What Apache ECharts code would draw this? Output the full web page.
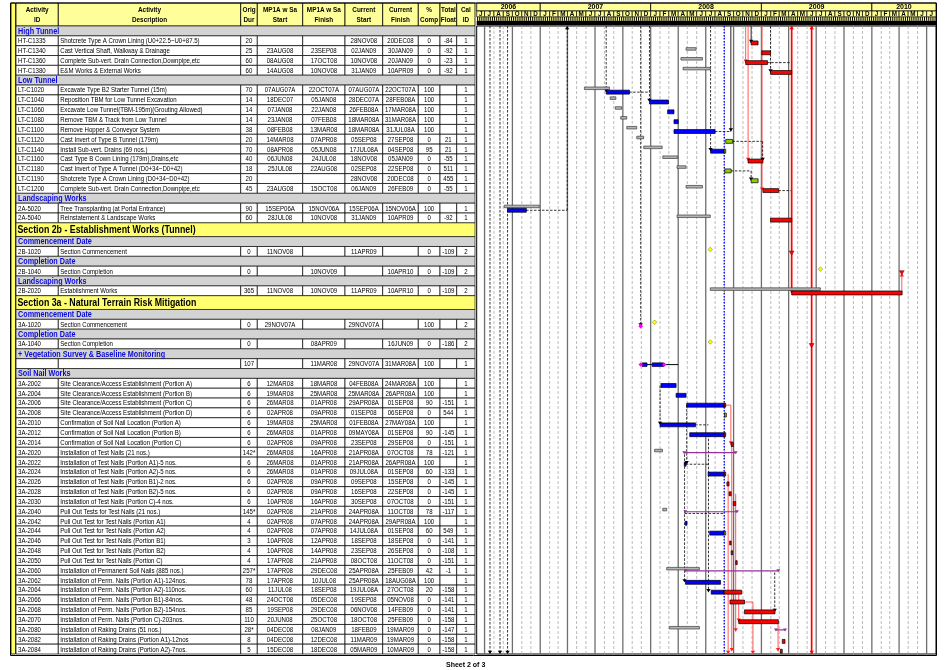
<!DOCTYPE html>
<html><head><meta charset="utf-8">
<script src="https://cdn.jsdelivr.net/npm/echarts@6/dist/echarts.min.js"></script>
<style>html,body{margin:0;padding:0;background:#fff}#c{width:947px;height:670px}</style>
</head><body><div id="c"></div><script>
// ---------------- DATA ----------------
const rowType = ['G','T','T','T','T','G','T','T','T','T','T','T','T','T','T','T','T','G','T','T','S','G','T','G','T','G','T','S','G','T','G','T','G','T','G',
 'T','T','T','T','T','T','T','T','T','T','T','T','T','T','T','T','T','T','T','T','T','T','T','T','T','T','T','T'];
const actId = ['','HT-C1335','HT-C1340','HT-C1360','HT-C1380','','LT-C1020','LT-C1040','LT-C1060','LT-C1080','LT-C1100','LT-C1120','LT-C1140','LT-C1160','LT-C1180','LT-C1190','LT-C1200','','2A-5020','2A-5040','','','2B-1020','','2B-1040','','2B-2020','','','3A-1020','','3A-1040','','','',
 '3A-2002','3A-2004','3A-2006','3A-2008','3A-2010','3A-2012','3A-2014','3A-2020','3A-2022','3A-2024','3A-2026','3A-2028','3A-2030','3A-2040','3A-2042','3A-2044','3A-2046','3A-2048','3A-2050','3A-2060','3A-2062','3A-2064','3A-2066','3A-2068','3A-2070','3A-2080','3A-2082','3A-2084'];
const actDesc = ['High Tunnel','Shotcrete Type A Crown Lining (U0+22.5~U0+87.5)','Cast Vertical Shaft, Walkway & Drainage','Complete Sub-vert. Drain Connection,Downpipe,etc','E&M Works & External Works',
 'Low Tunnel','Excavate Type B2 Starter Tunnel (15m)','Reposition TBM for Low Tunnel Excavation','Excavate Low Tunnel(TBM-195m)(Grouting Allowed)','Remove TBM & Track from Low Tunnel','Remove Hopper & Conveyor System','Cast Invert of Type B Tunnel (179m)','Install Sub-vert. Drains (69 nos.)','Cast Type B Cown Lining (179m),Drains,etc','Cast Invert of Type A Tunnel (D0+34~D0+42)','Shotcrete Type A Crown Lining (D0+34~D0+42)','Complete Sub-vert. Drain Connection,Downpipe,etc',
 'Landscaping Works','Tree Transplanting (at Portal Entrance)','Reinstatement & Landscape Works',
 'Section 2b - Establishment Works (Tunnel)','Commencement Date','Section Commencement','Completion Date','Section Completion','Landscaping Works','Establishment Works',
 'Section 3a - Natural Terrain Risk Mitigation','Commencement Date','Section Commencement','Completion Date','Section Completion','+ Vegetation Survey & Baseline Monitoring','','Soil Nail Works',
 'Site Clearance/Access Establishment (Portion A)','Site Clearance/Access Establishment (Portion B)','Site Clearance/Access Establishment (Portion C)','Site Clearance/Access Establishment (Portion D)',
 'Confirmation of Soil Nail Location (Portion A)','Confirmation of Soil Nail Location (Portion B)','Confirmation of Soil Nail Location (Portion C)',
 'Installation of Test Nails (21 nos.)','Installation of Test Nails (Portion A1)-5 nos.','Installation of Test Nails (Portion A2)-5 nos.','Installation of Test Nails (Portion B1)-2 nos.','Installation of Test Nails (Portion B2)-5 nos.','Installation of Test Nails (Portion C)-4 nos.',
 'Pull Out Tests for Test Nails (21 nos.)','Pull Out Test for Test Nails (Portion A1)','Pull Out Test for Test Nails (Portion A2)','Pull Out Test for Test Nails (Portion B1)','Pull Out Test for Test Nails (Portion B2)','Pull Out Test for Test Nails (Portion C)',
 'Installation of Permanent Soil Nails (885 nos.)','Installation of Perm. Nails (Portion A1)-124nos.','Installation of Perm. Nails (Portion A2)-110nos.','Installation of Perm. Nails (Portion B1)-84nos.','Installation of Perm. Nails (Portion B2)-154nos.','Installation of Perm. Nails (Portion C)-203nos.',
 'Installation of Raking Drains (51 nos.)','Installation of Raking Drains (Portion A1)-12nos','Installation of Raking Drains (Portion A2)-7nos.'];
const origDur = ['','20','25','60','60','','70','14','14','14','38','20','70','40','18','20','45','','90','60','','','0','','0','','365','','','0','','0','','107','',
 '6','6','6','6','6','6','6','142*','6','6','6','6','6','145*','4','4','3','4','4','257*','78','60','48','85','110','28*','8','5'];
const mpStart = ['','','23AUG08','08AUG08','14AUG08','','07AUG07A','18DEC07','07JAN08','23JAN08','08FEB08','14MAR08','08APR08','06JUN08','25JUL08','','23AUG08','','15SEP06A','28JUL08','','','11NOV08','','','','11NOV08','','','29NOV07A','','','','','',
 '12MAR08','19MAR08','26MAR08','02APR08','19MAR08','26MAR08','02APR08','26MAR08','26MAR08','26MAR08','02APR08','02APR08','10APR08','02APR08','02APR08','02APR08','10APR08','10APR08','17APR08','17APR08','17APR08','11JUL08','24OCT08','19SEP08','20JUN08','04DEC08','04DEC08','15DEC08'];
const mpFinish = ['','','23SEP08','17OCT08','10NOV08','','22OCT07A','05JAN08','22JAN08','07FEB08','13MAR08','07APR08','05JUN08','24JUL08','22AUG08','','15OCT08','','15NOV06A','10NOV08','','','','','10NOV09','','10NOV09','','','','','08APR09','','11MAR08','',
 '18MAR08','25MAR08','01APR08','09APR08','25MAR08','01APR08','09APR08','16APR08','01APR08','01APR08','09APR08','09APR08','16APR08','21APR08','07APR08','07APR08','12APR08','14APR08','21APR08','29DEC08','10JUL08','18SEP08','05DEC08','29DEC08','25OCT08','08JAN09','12DEC08','18DEC08'];
const curStart = ['','28NOV08','02JAN09','10NOV08','31JAN09','','07AUG07A','28DEC07A','26FEB08A','18MAR08A','18MAR08A','05SEP08','17JUL08A','18NOV08','02SEP08','28NOV08','06JAN09','','15SEP06A','31JAN09','','','11APR09','','','','11APR09','','','29NOV07A','','','','29NOV07A','',
 '04FEB08A','25MAR08A','29APR08A','01SEP08','01FEB08A','09MAY08A','23SEP08','21APR08A','21APR08A','09JUL08A','09SEP08','16SEP08','30SEP08','24APR08A','24APR08A','14JUL08A','18SEP08','23SEP08','08OCT08','25APR08A','25APR08A','19JUL08A','19SEP08','06NOV08','18OCT08','18FEB09','11MAR09','05MAR09'];
const curFinish = ['','20DEC08','30JAN09','20JAN09','10APR09','','22OCT07A','28FEB08A','17MAR08A','31MAR08A','31JUL08A','27SEP08','04SEP08','05JAN09','22SEP08','20DEC08','26FEB09','','15NOV06A','10APR09','','','','','10APR10','','10APR10','','','','','16JUN09','','31MAR08A','',
 '24MAR08A','26APR08A','01SEP08','06SEP08','27MAY08A','01SEP08','29SEP08','07OCT08','26APR08A','01SEP08','15SEP08','22SEP08','07OCT08','11OCT08','29APR08A','01SEP08','18SEP08','26SEP08','11OCT08','25FEB09','18AUG08A','27OCT08','05NOV08','14FEB09','25FEB09','19MAR09','19MAR09','10MAR09'];
const pctComp = ['','0','0','0','0','','100','100','100','100','100','0','95','0','0','0','0','','100','0','','','0','','0','','0','','','100','','0','','100','',
 '100','100','90','0','100','90','0','78','100','60','0','0','0','78','100','60','0','0','0','42','100','20','0','0','0','0','0','0'];
const totalFloat = ['','-84','-92','-23','-92','','','','','','','21','21','-55','511','455','-55','','','-92','','','-109','','-109','','-109','','','','','-186','','','',
 '','','-151','544','','-145','-151','-121','','-133','-145','-145','-151','-117','','549','-141','-108','-151','-1','','-158','-141','-141','-158','-147','-158','-158'];
const calId = ['','1','1','1','1','','1','1','1','1','1','1','1','1','1','1','1','','1','1','','','2','','2','','2','','','2','','2','','1','',
 '1','1','1','1','1','1','1','1','1','1','1','1','1','1','1','1','1','1','1','1','1','1','1','1','1','1','1','1'];

const headTop = ['Activity','Activity','Orig','MP1A w Sa','MP1A w Sa','Current','Current','%','Total','Cal'];
const headBot = ['ID','Description','Dur','Start','Finish','Start','Finish','Comp','Float','ID'];
const yearLabels = ['2006','2007','2008','2009','2010'];
const monthLetters = ['J','F','M','A','M','J','J','A','S','O','N','D'];

// grey target bars [row, start, finish] and target milestones [row, date]
const targetBars = [
 [2,'2008-04-27','2008-05-30'],[3,'2008-04-10','2008-06-20'],[4,'2008-04-17','2008-07-16'],
 [6,'2007-05-27','2007-08-18'],[7,'2007-08-20','2007-09-08'],[8,'2007-09-06','2007-09-27'],[9,'2007-09-24','2007-10-14'],
 [10,'2007-10-14','2007-11-16'],[11,'2007-11-16','2007-12-09'],[12,'2007-12-09','2008-02-08'],[13,'2008-02-10','2008-03-30'],
 [14,'2008-03-28','2008-04-27'],[16,'2008-04-27','2008-06-20'],[18,'2006-09-04','2006-12-29'],[19,'2008-03-28','2008-07-16'],
 [26,'2008-07-16','2009-07-15'],[42,'2008-01-14','2008-02-09'],[48,'2008-02-10','2008-02-23'],[54,'2008-02-23','2008-06-10'],[60,'2008-03-03','2008-06-10']];
const targetMilestones = [[22,'2008-07-16'],[24,'2009-07-15'],[29,'2008-01-14'],[31,'2008-07-16']];
// progress segments of the vegetation summary row
const vegRow = 33;
const vegProgress = [['2007-12-04','2007-12-20'],['2008-01-06','2008-02-13']];
const vegMarks = ['2007-11-29','2008-02-15'];
const dataDate = '2008-08-31';
// relationship lines: vertical [date, fromRow, toRow, kind], horizontal [row, from, to, kind]
const linkV = [
 ['2006-07-19',-1,63,'n'],['2006-08-21',-1,63,'n'],['2006-09-15',-1,63,'n'],['2007-03-31',18,-1,'n'],
 ['2007-08-07',-1,6,'n'],['2007-12-28',-1,7,'n'],['2007-11-29',-1,29,'n'],['2008-07-17',-1,12,'n'],
 ['2008-09-22',-1,10,'k'],['2008-11-28',-1,1,'k'],['2009-01-31',-1,4,'n'],
 ['2008-11-10',-1,3,'r'],['2008-11-18',-1,13,'r'],['2009-01-03',-1,16,'r'],
 ['2009-04-11',26,-1,'R'],['2009-06-16',63,-1,'R'],['2010-04-10',26,24,'r'],
 ['2008-11-28',14,15,'n'],['2009-01-05',11,13,'n'],
 ['2008-02-01',35,39,'n'],['2008-04-29',37,43,'n'],['2008-04-22',42,55,'n'],['2008-07-10',40,56,'n'],
 ['2008-09-22',37,41,'r'],['2008-09-13',44,63,'r'],['2008-09-25',41,62,'r'],['2008-10-08',46,60,'r'],
 ['2008-10-18',56,59,'r'],['2008-12-04',57,63,'r'],['2009-02-25',59,62,'r'],['2009-02-14',54,58,'n']];
const linkH = [
 [18,'2006-11-15','2007-03-31','n'],[6,'2007-10-22','2007-12-28','n'],[10,'2008-07-31','2008-09-22','n'],
 [11,'2008-09-27','2009-01-05','n'],[14,'2008-09-22','2008-11-28','n'],[16,'2009-02-26','2009-04-10','n'],
 [3,'2009-01-20','2009-04-10','n'],[37,'2008-09-01','2008-09-22','r'],[39,'2008-05-27','2008-07-10','n'],
 [43,'2008-04-26','2008-07-10','n'],[48,'2008-04-22','2008-09-01','n'],[57,'2008-11-05','2008-12-04','r']];

// ---------------- LAYOUT / HELPERS ----------------
const FONT = '"Liberation Sans", Arial, sans-serif';
const COLS = [16, 58.3, 240.7, 257.3, 302.7, 345, 382.7, 418.3, 440, 456.7, 475];
const SEC_H = 1.4;
function rowTop(i){ let u=i; if(i>20) u+=SEC_H-1; if(i>27) u+=SEC_H-1; return u; }
function rowH(i){ return rowType[i]==='S'?SEC_H:1; }
const YMAX = rowTop(62)+1;
const DAY = 86400000;
const T0 = Date.UTC(2006,5,5), T1 = Date.UTC(2010,7,1);
const MON='JANFEBMARAPRMAYJUNJULAUGSEPOCTNOVDEC';
function P6(s){ if(!s) return null; const m=s.match(/^(\d\d)([A-Z]{3})(\d\d)/); return Date.UTC(2000+(+m[3]), MON.indexOf(m[2])/3, +m[1]); }
function D(s){ const a=s.split('-').map(Number); return Date.UTC(a[0],a[1]-1,a[2]); }
const DD = D(dataDate);
const YEL='#FFFF99', SECT='#FFFF70', GREY='#D3D3D3', BLUE='#0A0ADC';
const BARC = ['#0000FF','#FF0000','#8CD000'];

// month / week / year lists for the time scale header
const monthStarts=[]; for(let y=2006,m=5;;){ const t=Date.UTC(y,m,1); if(t>=T1) break; monthStarts.push(t); m++; if(m>11){m=0;y++;} }
const weeks=[]; for(let t=T0+3*DAY;t<T1;t+=7*DAY) weeks.push(t);

// build bar data from the table
const barData=[], sumData=[], msData=[];
for(let i=0;i<rowType.length;i++){
  if(rowType[i]!=='T') continue;
  const s=P6(curStart[i]), f=P6(curFinish[i]);
  if(origDur[i]==='0'){ msData.push([i, s||f, pctComp[i]==='100'?1:0]); continue; }
  if(!actId[i]) continue;
  if(origDur[i].indexOf('*')>=0){ sumData.push([i,s,f+DAY]); continue; }
  const pct=+pctComp[i], tf=totalFloat[i]===''?0:+totalFloat[i];
  const rest = tf<0?1:2, fe=f+DAY;
  if(pct===100) barData.push([i,s,fe,0]);
  else if(pct>0 && s<DD){ barData.push([i,s,Math.min(fe,DD),0]); if(fe>DD) barData.push([i,DD,fe,rest]); }
  else barData.push([i,s,fe,rest]);
}

function txt(x,y,t,font,align,sx,fill){ return {type:'text',x:x,y:y,scaleX:sx,style:{text:t,font:font,fill:fill||'#000',align:align,verticalAlign:'middle'}}; }
function arrow(x,y,dir,c){ return {type:'polygon',shape:{points:[[x,y],[x-2.2,y-3.2*dir],[x+2.2,y-3.2*dir]]},style:{fill:c}}; }
function yRow(r){ if(r<0) return 0; if(r>62) return YMAX; return rowTop(r)+0.72; }
const LS = { n:{stroke:'#000',lineWidth:0.8,lineDash:[2.5,1.5]}, k:{stroke:'#222',lineWidth:1}, r:{stroke:'#FF5A5A',lineWidth:1}, R:{stroke:'#FF0000',lineWidth:1.7} };
const AC = { n:'#000', k:'#000', r:'#FF2020', R:'#FF0000' };

// ---------------- RENDERERS ----------------
function tableRow(params, api){
  const i=api.value(0), ty=rowType[i], top=rowTop(i), h=rowH(i);
  const L=api.coord([COLS[0],top]), R=api.coord([COLS[10],top+h]);
  const y0=L[1], y1=R[1], yc=(y0+y1)/2, ch=[];
  if(ty!=='T'){
    ch.push({type:'rect',shape:{x:L[0],y:y0,width:R[0]-L[0],height:y1-y0},style:{fill:ty==='G'?GREY:SECT,stroke:'#000',lineWidth:0.6}});
    if(ty==='G') ch.push(txt(L[0]+2,yc+0.4,actDesc[i],'bold 8.5px '+FONT,'left',0.85,BLUE));
    else ch.push(txt(L[0]+1.5,yc+0.5,actDesc[i],'bold 10px '+FONT,'left',0.88,'#000'));
  } else {
    const v=[actId[i],actDesc[i],origDur[i],mpStart[i],mpFinish[i],curStart[i],curFinish[i],pctComp[i],totalFloat[i],calId[i]];
    for(let k=0;k<10;k++){
      const xa=api.coord([COLS[k],top])[0], xb=api.coord([COLS[k+1],top])[0];
      ch.push({type:'rect',shape:{x:xa,y:y0,width:xb-xa,height:y1-y0},style:{fill:'#fff',stroke:'#000',lineWidth:0.7}});
      if(v[k]) ch.push(txt(k<2?xa+2:(xa+xb)/2, yc+0.4, v[k], '7.5px '+FONT, k<2?'left':'center', 0.81));
    }
  }
  return {type:'group',children:ch};
}
function tableHead(params, api){
  const gTop=api.coord([16,0])[1], y0=gTop-23, ch=[];
  for(let k=0;k<10;k++){
    const xa=api.coord([COLS[k],0])[0], xb=api.coord([COLS[k+1],0])[0];
    ch.push({type:'rect',shape:{x:xa,y:y0,width:xb-xa,height:23},style:{fill:YEL,stroke:'#000',lineWidth:0.8}});
    ch.push(txt((xa+xb)/2,y0+7,headTop[k],'bold 7.5px '+FONT,'center',0.85));
    ch.push(txt((xa+xb)/2,y0+16.5,headBot[k],'bold 7.5px '+FONT,'center',0.85));
  }
  return {type:'group',children:ch};
}
function yearCell(params, api){
  const y=+yearLabels[params.dataIndex];
  const s=Math.max(T0,Date.UTC(y,0,1)), e=Math.min(T1,Date.UTC(y+1,0,1));
  const xa=api.coord([s,0])[0], xb=api.coord([e,0])[0], gTop=api.coord([s,0])[1];
  return {type:'group',children:[
    {type:'rect',shape:{x:xa,y:gTop-23,width:xb-xa,height:8},style:{fill:YEL,stroke:'#000',lineWidth:0.8}},
    txt((xa+xb)/2,gTop-18.8,yearLabels[params.dataIndex],'bold 7px '+FONT,'center',1)]};
}
function monthCell(params, api){
  const s=monthStarts[params.dataIndex], e=params.dataIndex+1<monthStarts.length?monthStarts[params.dataIndex+1]:T1;
  const a=Math.max(s,T0), b=Math.min(e,T1);
  const xa=api.coord([a,0])[0], xb=api.coord([b,0])[0], gTop=api.coord([a,0])[1];
  return {type:'group',children:[
    {type:'rect',shape:{x:xa,y:gTop-15,width:xb-xa,height:5.8},style:{fill:YEL,stroke:'#000',lineWidth:0.7}},
    txt((xa+xb)/2,gTop-11.9,monthLetters[new Date(s).getUTCMonth()],'bold 6.3px '+FONT,'center',1)]};
}
function weekTick(params, api){
  const p=api.coord([api.value(0),0]);
  return {type:'line',shape:{x1:p[0],y1:p[1]-9.2,x2:p[0],y2:p[1]-5.2},style:{stroke:'#000',lineWidth:1}};
}
function timeBand(params, api){
  const a=api.coord([T0,0]), b=api.coord([T1,0]);
  return {type:'group',children:[
    {type:'rect',shape:{x:a[0],y:a[1]-9.2,width:b[0]-a[0],height:4},style:{fill:YEL}},
    {type:'rect',shape:{x:a[0],y:a[1]-5.2,width:b[0]-a[0],height:4.4},style:{fill:'#000'}}]};
}
function monthLine(params, api){
  const t=api.value(0); if(t<=T0) return null;
  const a=api.coord([t,0]), b=api.coord([t,YMAX]);
  const q=new Date(t).getUTCMonth()%3===0;
  return {type:'line',shape:{x1:a[0],y1:a[1],x2:b[0],y2:b[1]},style:q?{stroke:'#6E6E6E',lineWidth:1.3}:{stroke:'#ABABAB',lineWidth:0.8,lineDash:[3,2]}};
}
function rowLine(params, api){
  const i=api.value(0); if(i<1) return null;
  const a=api.coord([T0,rowTop(i)]), b=api.coord([T1,rowTop(i)]);
  let st=null;
  if(rowType[i]!=='T') st={stroke:'#222',lineWidth:1};
  else if(rowType[i-1]==='T') st={stroke:'#6A6A6A',lineWidth:0.8,lineDash:[3,2]};
  if(!st) return null;
  return {type:'line',shape:{x1:a[0],y1:a[1],x2:b[0],y2:b[1]},style:st};
}
function targetBar(params, api){
  const r=api.value(0), top=rowTop(r);
  const a=api.coord([api.value(1),top+0.2]), b=api.coord([api.value(2),top+0.46]);
  return {type:'rect',shape:{x:a[0],y:a[1],width:Math.max(b[0]-a[0],1.5),height:b[1]-a[1]},style:{fill:'#B4B4B4',stroke:'#3C3C3C',lineWidth:0.7}};
}
function curBar(params, api){
  const r=api.value(0), top=rowTop(r), c=api.value(3);
  const a=api.coord([api.value(1),top+0.52]), b=api.coord([api.value(2),top+0.92]);
  return {type:'rect',shape:{x:a[0],y:a[1],width:Math.max(b[0]-a[0],1.5),height:b[1]-a[1]},style:{fill:BARC[c],stroke:'#000',lineWidth:0.7}};
}
function sumBar(params, api){
  const r=api.value(0), top=rowTop(r);
  const a=api.coord([api.value(1),top+0.55]), b=api.coord([api.value(2),top+0.55]);
  const c='#93339A';
  return {type:'group',children:[
    {type:'line',shape:{x1:a[0],y1:a[1],x2:b[0],y2:b[1]},style:{stroke:c,lineWidth:1.2}},
    {type:'polygon',shape:{points:[[a[0]-2,a[1]-1.5],[a[0]+2,a[1]-1.5],[a[0],a[1]+1.5]]},style:{fill:c}},
    {type:'polygon',shape:{points:[[b[0]-2,b[1]-1.5],[b[0]+2,b[1]-1.5],[b[0],b[1]+1.5]]},style:{fill:c}}]};
}
function vegBar(params, api){
  const top=rowTop(vegRow), ch=[];
  const a=api.coord([P6(curStart[vegRow]),top+0.6]), b=api.coord([P6(curFinish[vegRow])+DAY,top+0.6]);
  ch.push({type:'line',shape:{x1:a[0],y1:a[1],x2:b[0],y2:b[1]},style:{stroke:'#000',lineWidth:1}});
  vegProgress.forEach(s=>{ const p=api.coord([D(s[0]),top+0.42]), q=api.coord([D(s[1]),top+0.8]);
    ch.push({type:'rect',shape:{x:p[0],y:p[1],width:q[0]-p[0],height:q[1]-p[1]},style:{fill:'#0000FF',stroke:'#000',lineWidth:0.6}}); });
  vegMarks.forEach(s=>{ const p=api.coord([D(s),top+0.6]);
    ch.push({type:'polygon',shape:{points:[[p[0]-2.2,p[1]],[p[0],p[1]-2.2],[p[0]+2.2,p[1]],[p[0],p[1]+2.2]]},style:{fill:'#FF00FF'}}); });
  return {type:'group',children:ch};
}
function targetMs(params, api){
  const r=api.value(0), p=api.coord([api.value(1),rowTop(r)+0.3]);
  return {type:'polygon',shape:{points:[[p[0]-2.3,p[1]],[p[0],p[1]-2.3],[p[0]+2.3,p[1]],[p[0],p[1]+2.3]]},style:{fill:'#FFFF00',stroke:'#9A9A40',lineWidth:0.7}};
}
function curMs(params, api){
  const r=api.value(0), done=api.value(2), p=api.coord([api.value(1),rowTop(r)+0.7]);
  if(done) return {type:'polygon',shape:{points:[[p[0]-2.4,p[1]],[p[0],p[1]-2.4],[p[0]+2.4,p[1]],[p[0],p[1]+2.4]]},style:{fill:'#FF00FF'}};
  return {type:'polygon',shape:{points:[[p[0]-2.4,p[1]-2.4],[p[0]+2.4,p[1]-2.4],[p[0],p[1]+1.8]]},style:{fill:'#FF0000',stroke:'#800000',lineWidth:0.5}};
}
function vLink(params, api){
  const k=linkV[params.dataIndex][3];
  const p=api.coord([api.value(0),yRow(api.value(1))]), q=api.coord([api.value(0),yRow(api.value(2))]);
  const dir=q[1]>p[1]?1:-1;
  const ch=[{type:'line',shape:{x1:p[0],y1:p[1],x2:q[0],y2:q[1]},style:LS[k]}, arrow(q[0],q[1],dir,AC[k])];
  if(k==='R') ch.push(arrow(p[0],p[1],-dir,AC[k]));
  return {type:'group',children:ch};
}
function hLink(params, api){
  const k=linkH[params.dataIndex][3], r=api.value(0);
  const p=api.coord([api.value(1),rowTop(r)+0.72]), q=api.coord([api.value(2),rowTop(r)+0.72]);
  return {type:'line',shape:{x1:p[0],y1:p[1],x2:q[0],y2:q[1]},style:LS[k]};
}
function ddLine(params, api){
  const a=api.coord([api.value(0),0]), b=api.coord([api.value(0),YMAX]);
  return {type:'line',shape:{x1:a[0],y1:a[1],x2:b[0],y2:b[1]},style:{stroke:'#0000FF',lineWidth:1.3,lineDash:[1.5,1.5]}};
}

function cs(name, data, fn, z, gi, enc){
  return {type:'custom', name:name, xAxisIndex:gi, yAxisIndex:gi, data:data, renderItem:fn, z:z, clip:false, silent:true, encode:enc||{x:0,y:1}};
}
const G=1;
const option = {
  animation:false, backgroundColor:'#fff',
  title:{text:'Sheet 2 of 3', left:441, top:657, textStyle:{fontSize:7, fontWeight:'bold', fontFamily:FONT, color:'#000'}},
  grid:[{left:16, top:26, width:459, height:628, show:false},
        {left:476.7, top:26, width:459.3, height:628, show:true, borderColor:'#000', borderWidth:1, backgroundColor:'#fff'}],
  xAxis:[{type:'value', gridIndex:0, min:16, max:475, show:false},
         {type:'time', gridIndex:1, min:T0, max:T1, show:false}],
  yAxis:[{type:'value', gridIndex:0, min:0, max:YMAX, inverse:true, show:false},
         {type:'value', gridIndex:1, min:0, max:YMAX, inverse:true, show:false}],
  graphic:[
    {type:'rect', shape:{x:11, y:3, width:4.5, height:651}, style:{fill:'#FFFF66', stroke:'#000', lineWidth:0.8}, z:50},
    {type:'rect', shape:{x:10.5, y:3, width:926, height:652.5}, style:{fill:null, stroke:'#000', lineWidth:1}, z:50}
  ],
  series:[
    cs('tableHead',[[16,0]],tableHead,5,0),
    cs('table',rowType.map((t,i)=>[i]),tableRow,5,0,{x:0,y:0}),
    cs('months',monthStarts.map(t=>[t,0]),monthLine,1,G),
    cs('rows',rowType.map((t,i)=>[T0,i]),rowLine,1,G,{x:0,y:1}),
    cs('dataDate',[[DD,0]],ddLine,3,G),
    cs('linksH',linkH.map(l=>[l[0],D(l[1]),D(l[2])]),hLink,3,G,{x:[1,2],y:0}),
    cs('linksV',linkV.map(l=>[D(l[0]),l[1],l[2]]),vLink,3,G,{x:0,y:[1,2]}),
    cs('target',targetBars.map(b=>[b[0],D(b[1]),D(b[2])]),targetBar,5,G,{x:[1,2],y:0}),
    cs('current',barData,curBar,6,G,{x:[1,2],y:0}),
    cs('summary',sumData,sumBar,6,G,{x:[1,2],y:0}),
    cs('veg',[[P6(curStart[vegRow]),vegRow]],vegBar,6,G),
    cs('targetMs',targetMilestones.map(m=>[m[0],D(m[1])]),targetMs,7,G,{x:1,y:0}),
    cs('curMs',msData,curMs,7,G,{x:1,y:0}),
    cs('band',[[T0,0]],timeBand,8,G),
    cs('weeks',weeks.map(t=>[t,0]),weekTick,9,G),
    cs('yearCells',yearLabels.map(y=>[Date.UTC(+y,0,1),0]),yearCell,9,G),
    cs('monthCells',monthStarts.map(t=>[t,0]),monthCell,9,G)
  ]
};
const chart = echarts.init(document.getElementById('c'), null, {renderer:'canvas'});
chart.setOption(option);
</script></body></html>
